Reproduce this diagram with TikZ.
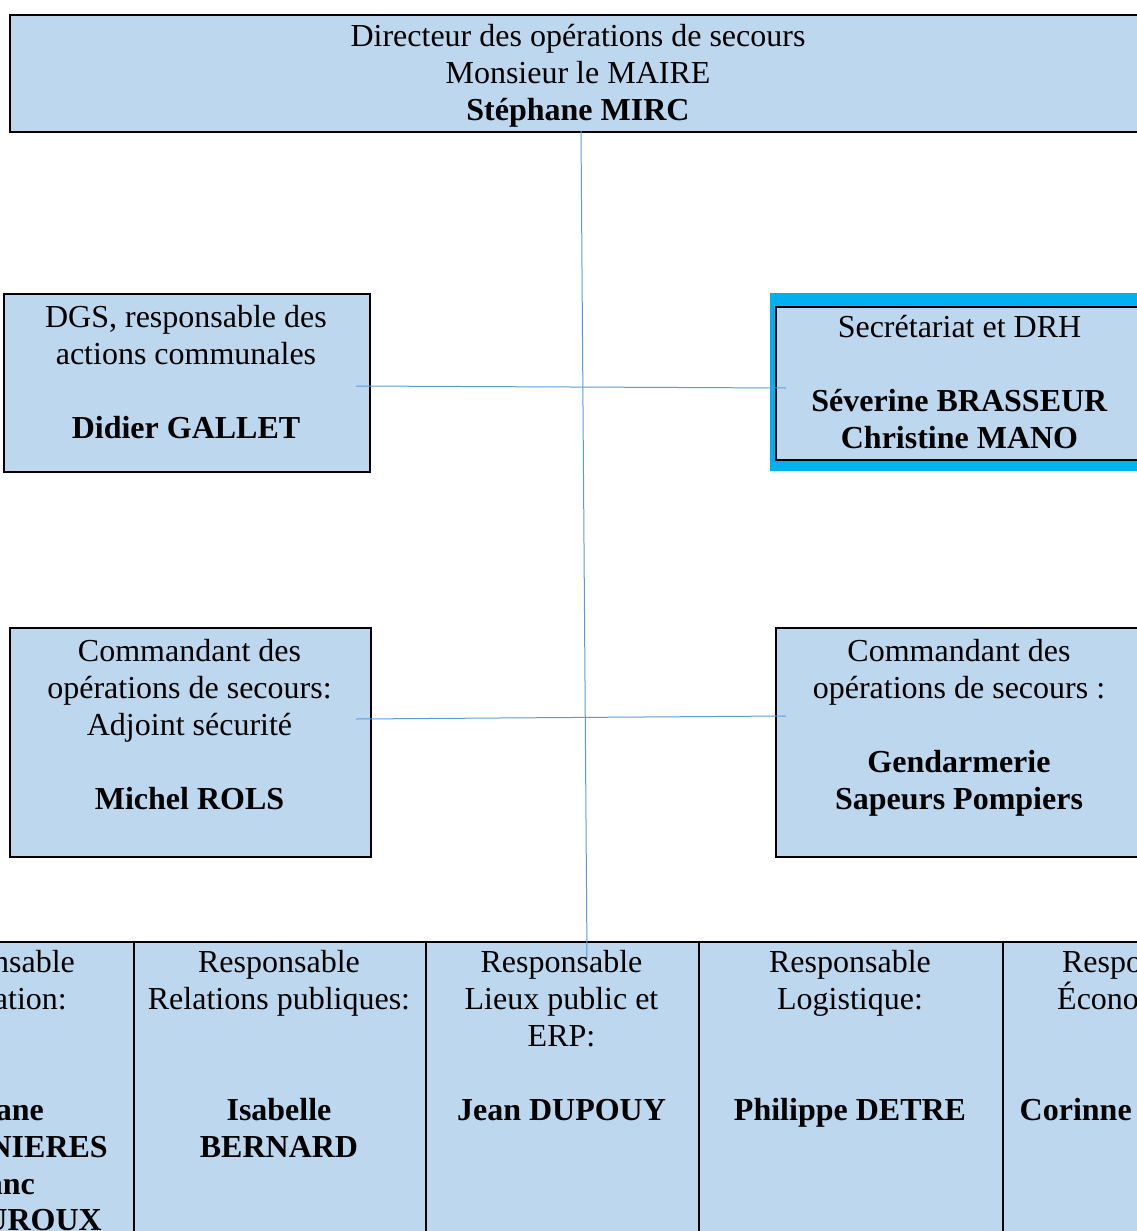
\documentclass[tikz,border=0pt]{standalone}
\usepackage{fontspec}
\setmainfont{Liberation Serif}
\definecolor{boxblue}{RGB}{189,215,238}
\definecolor{framecyan}{RGB}{0,176,240}
\definecolor{linkblue}{RGB}{91,155,213}
\newcommand\mystrut{\rule{0pt}{30pt}}
\begin{document}
\begin{tikzpicture}[x=1pt,y=-1pt,
  box/.style={draw=black, line width=2pt, fill=boxblue, anchor=north west, inner sep=0pt},
  txt/.style={font=\fontsize{32}{37}\selectfont, align=center, inner sep=0pt, anchor=north},
  frag/.style={font=\fontsize{32}{37}\selectfont, inner sep=0pt},
  conn/.style={draw=linkblue, line width=1pt}]
\useasboundingbox (0,0) rectangle (1137,1231);
\clip (0,0) rectangle (1137,1231);
% boxes
\node[box, minimum width=1140pt, minimum height=117pt] (dir) at (9,14) {};
\node[box, minimum width=366pt, minimum height=178pt] (dgs) at (3,293) {};
\node[fill=framecyan, anchor=north west, inner sep=0pt, minimum width=400pt, minimum height=178pt] (frame) at (770,293) {};
\node[box, minimum width=380pt, minimum height=153pt] (sec) at (775,305.5) {};
\node[box, minimum width=361pt, minimum height=229pt] (cmdl) at (9,627) {};
\node[box, minimum width=380pt, minimum height=229pt] (cmdr) at (775,627) {};
\node[box, minimum width=283pt, minimum height=340pt] (c1) at (-150,941) {};
\node[box, minimum width=292pt, minimum height=340pt] (c2) at (133,941) {};
\node[box, minimum width=273pt, minimum height=340pt] (c3) at (425,941) {};
\node[box, minimum width=304pt, minimum height=340pt] (c4) at (698,941) {};
\node[box, minimum width=300pt, minimum height=340pt] (c5) at (1002,941) {};
% texts
\node[txt] (tdir) at (578,16) {\mystrut Directeur des opérations de secours\\Monsieur le MAIRE\\\textbf{Stéphane MIRC}};
\node[txt] (tdgs) at (186,297) {\mystrut DGS, responsable des\\actions communales\\~\\\textbf{Didier GALLET}};
\node[txt] (tsec) at (959.5,307) {\mystrut Secrétariat et DRH\\~\\\textbf{Séverine BRASSEUR}\\\textbf{Christine MANO}};
\node[txt] (tcmdl) at (189.5,631) {\mystrut Commandant des\\opérations de secours:\\Adjoint sécurité\\~\\\textbf{Michel ROLS}};
\node[txt] (tcmdr) at (959,631) {\mystrut Commandant des\\opérations de secours :\\~\\\textbf{Gendarmerie}\\\textbf{Sapeurs Pompiers}};
\node[txt] (tc2) at (279,942) {\mystrut Responsable\\Relations publiques:\\~\\~\\\textbf{Isabelle}\\\textbf{BERNARD}};
\node[txt] (tc3) at (561.5,942) {\mystrut Responsable\\Lieux public et\\ERP:\\~\\\textbf{Jean DUPOUY}};
\node[txt] (tc4) at (850,942) {\mystrut Responsable\\Logistique:\\~\\~\\\textbf{Philippe DETRE}};
% partially visible cells
\node[frag, anchor=base] (tc1a) at (-6,972) {Responsable};
\node[frag, anchor=base east] (tc1b) at (67,1009) {ation:};
\node[frag, anchor=base east] (tc1c) at (44,1120) {\textbf{ane}};
\node[frag, anchor=base east] (tc1d) at (108,1157) {\textbf{NIERES}};
\node[frag, anchor=base east] (tc1e) at (35,1194) {\textbf{anc}};
\node[frag, anchor=base east] (tc1f) at (102,1230) {\textbf{UROUX}};
\node[frag, anchor=base] (tc5a) at (1143,972) {Responsable};
\node[frag, anchor=base west] (tc5b) at (1057,1009) {Écono};
\node[frag, anchor=base west] (tc5c) at (1019.5,1120) {\textbf{Corinne}};
% connectors
\coordinate (vtop) at (581,131);
\coordinate (vbot) at (587,958);
\coordinate (h1a) at (356,386);
\coordinate (h1b) at (786,388);
\coordinate (h2a) at (356,719);
\coordinate (h2b) at (786,716);
\draw[conn] (vtop) -- (vbot);
\draw[conn] (h1a) -- (h1b);
\draw[conn] (h2a) -- (h2b);
\end{tikzpicture}
\end{document}
